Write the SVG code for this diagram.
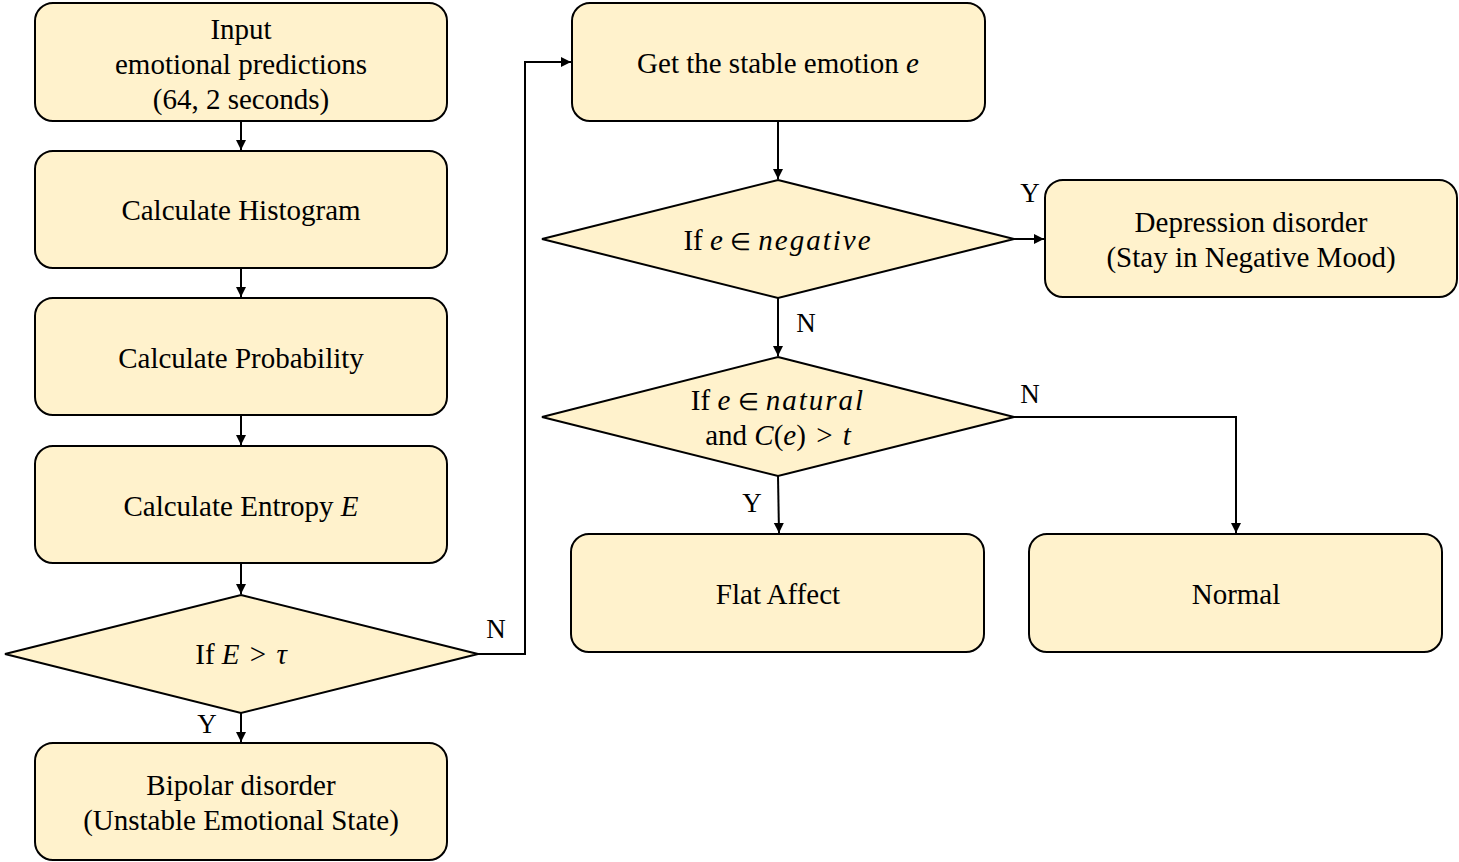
<svg xmlns="http://www.w3.org/2000/svg" width="1459" height="862" viewBox="0 0 1459 862">
<defs>
<marker id="ah" viewBox="0 0 10 10" refX="10" refY="5" markerWidth="10" markerHeight="11" markerUnits="userSpaceOnUse" orient="auto">
<path d="M0,0 L10,5 L0,10 z" fill="#000"/>
</marker>
<style>
.n{fill:#FFF2CC;stroke:#000;stroke-width:2}
.t{font-family:"Liberation Serif","Times New Roman",serif;font-size:29px;fill:#000;text-anchor:middle}
.m{font-style:italic}
.s{font-size:24px}
.l{font-family:"Liberation Serif","Times New Roman",serif;font-size:27px;fill:#000}
.c{fill:none;stroke:#000;stroke-width:2;marker-end:url(#ah)}
</style>
</defs>
<rect width="1459" height="862" fill="#fff"/>
<g id="input"><rect class="n" x="35" y="3" width="412" height="118" rx="18"/>
<text class="t" x="241" y="39">Input</text><text class="t" x="241" y="74">emotional predictions</text><text class="t" x="241" y="109">(64, 2 seconds)</text></g>
<g id="hist"><rect class="n" x="35" y="151" width="412" height="117" rx="18"/>
<text class="t" x="241" y="220">Calculate Histogram</text></g>
<g id="prob"><rect class="n" x="35" y="298" width="412" height="117" rx="18"/>
<text class="t" x="241" y="368">Calculate Probability</text></g>
<g id="entropy"><rect class="n" x="35" y="446" width="412" height="117" rx="18"/>
<text class="t" x="241" y="516">Calculate Entropy <tspan class="m">E</tspan></text></g>
<g id="d1"><polygon class="n" points="241,595 478,654 241,713 5,654"/>
<text class="t" x="241" y="664">If <tspan class="m">E</tspan> <tspan dx="3">&gt;</tspan> <tspan class="m" dx="3">τ</tspan></text></g>
<g id="bipolar"><rect class="n" x="35" y="743" width="412" height="117" rx="18"/>
<text class="t" x="241" y="795">Bipolar disorder</text><text class="t" x="241" y="830">(Unstable Emotional State)</text></g>
<g id="stable"><rect class="n" x="572" y="3" width="413" height="118" rx="18"/>
<text class="t" x="778" y="73">Get the stable emotion <tspan class="m">e</tspan></text></g>
<g id="d2"><polygon class="n" points="778,180 1014,239 778,298 542,239"/>
<text class="t" x="778" y="250">If <tspan class="m">e</tspan> <tspan class="s">∈</tspan> <tspan class="m" letter-spacing="2">negative</tspan></text></g>
<g id="depression"><rect class="n" x="1045" y="180" width="412" height="117" rx="18"/>
<text class="t" x="1251" y="232">Depression disorder</text><text class="t" x="1251" y="267">(Stay in Negative Mood)</text></g>
<g id="d3"><polygon class="n" points="778,357 1014,417 778,476 542,417"/>
<text class="t" x="778" y="410">If <tspan class="m">e</tspan> <tspan class="s">∈</tspan> <tspan class="m" letter-spacing="2">natural</tspan></text>
<text class="t" x="778" y="445">and <tspan class="m">C</tspan>(<tspan class="m">e</tspan>) <tspan dx="3">&gt;</tspan> <tspan class="m" dx="3">t</tspan></text></g>
<g id="flat"><rect class="n" x="571" y="534" width="413" height="118" rx="18"/>
<text class="t" x="778" y="604">Flat Affect</text></g>
<g id="normal"><rect class="n" x="1029" y="534" width="413" height="118" rx="18"/>
<text class="t" x="1236" y="604">Normal</text></g>
<g id="connectors">
<path class="c" d="M241,121 V150"/>
<path class="c" d="M241,268 V297"/>
<path class="c" d="M241,415 V445"/>
<path class="c" d="M241,563 V594"/>
<path class="c" d="M241,713 V742"/>
<path class="c" d="M478,654 H525 V62 H571"/>
<path class="c" d="M778,121 V179"/>
<path class="c" d="M1014,239 H1044"/>
<path class="c" d="M778,298 V356"/>
<path class="c" d="M778,476 L779,533"/>
<path class="c" d="M1014,417 H1236 V533"/>
</g>
<g id="labels">
<text class="l" x="496" y="638" text-anchor="middle">N</text>
<text class="l" x="207" y="733" text-anchor="middle">Y</text>
<text class="l" x="1030" y="202" text-anchor="middle">Y</text>
<text class="l" x="806" y="332" text-anchor="middle">N</text>
<text class="l" x="1030" y="403" text-anchor="middle">N</text>
<text class="l" x="752" y="512" text-anchor="middle">Y</text>
</g>
</svg>
